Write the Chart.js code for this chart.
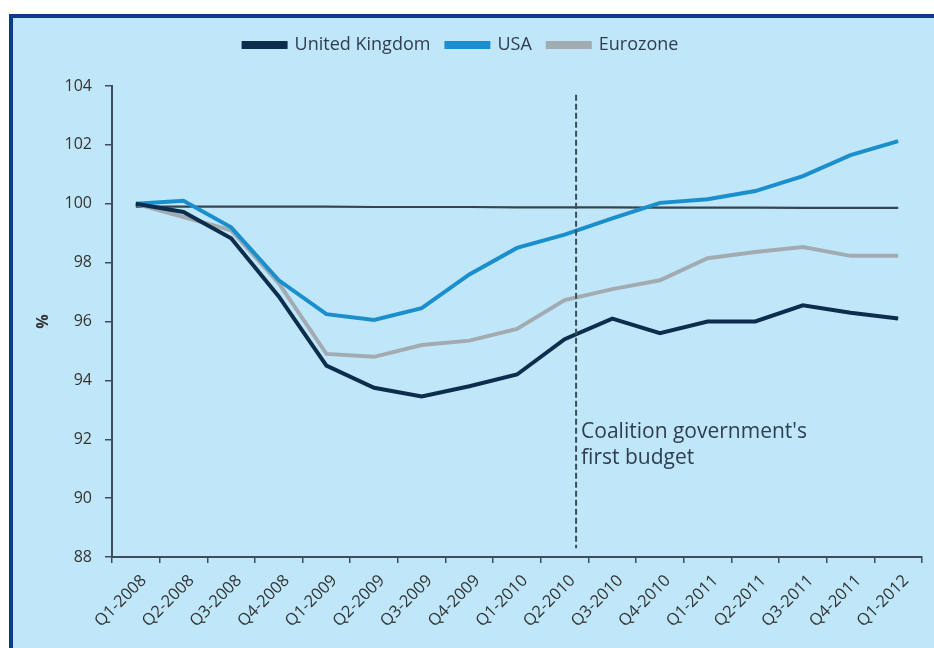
<!DOCTYPE html>
<html>
<head>
<meta charset="utf-8">
<script src="https://cdn.jsdelivr.net/npm/chart.js@4/dist/chart.umd.min.js"></script>
<style>
    html, body { margin: 0; padding: 0; background: #ffffff; overflow: hidden; }
    #frame { position: absolute; left: 9px; top: 14px; width: 940px; height: 650px; background: #c0e7f9; border: 4px solid #0c3b8d; box-sizing: border-box; }
    #chart { position: absolute; left: 0; top: 0; }
</style>
</head>
<body>
<div id="frame"></div>
<canvas id="chart" width="934" height="648"></canvas>
<script>
// --- data ---
const quarters = ['Q1-2008', 'Q2-2008', 'Q3-2008', 'Q4-2008', 'Q1-2009', 'Q2-2009', 'Q3-2009', 'Q4-2009', 'Q1-2010',
    'Q2-2010', 'Q3-2010', 'Q4-2010', 'Q1-2011', 'Q2-2011', 'Q3-2011', 'Q4-2011', 'Q1-2012'];
const ukValues = [100.0, 99.72, 98.83, 96.85, 94.5, 93.75, 93.45, 93.8, 94.2, 95.4, 96.1, 95.6, 96.0, 96.0, 96.55, 96.3, 96.1];
const usaValues = [100.0, 100.1, 99.2, 97.4, 96.25, 96.05, 96.45, 97.6, 98.5, 98.95, 99.5, 100.03, 100.15, 100.43, 100.94, 101.65, 102.13];
const euroValues = [100.0, 99.55, 99.1, 97.3, 94.9, 94.8, 95.2, 95.35, 95.75, 96.73, 97.1, 97.4, 98.15, 98.36, 98.53, 98.23, 98.23];
const baselineValues = [99.9, 99.9, 99.9, 99.9, 99.9, 99.89, 99.89, 99.89, 99.88, 99.88, 99.88, 99.87, 99.87, 99.87, 99.86, 99.86, 99.86];
const yTicks = [88, 90, 92, 94, 96, 98, 100, 102, 104];
const budgetPosition = 9.24;   // between Q2-2010 and Q3-2010
const budgetLabel = ["Coalition government's", 'first budget'];
const budgetLabelY = 92.25;

const FONT = "'Open Sans', sans-serif";
const textColor = '#2e3e4e';
const axisColor = '#3d4d5c';
const legendGap = 22;   // extra room under the legend

// dashed "first budget" marker + label
const budgetPlugin = {
    id: 'budgetMarker',
    beforeLayout(chart) {
        // push the plot area down below the legend
        const legend = chart.legend;
        if (legend && !legend._spaced) {
            const fit = legend.fit.bind(legend);
            legend.fit = function () { fit(); this.height += legendGap; };
            legend._spaced = true;
        }
    },
    afterDatasetsDraw(chart) {
        const ctx = chart.ctx;
        const x = chart.scales.x.getPixelForValue(budgetPosition);
        const yTop = chart.scales.y.getPixelForValue(103.7);
        const yBot = chart.scales.y.getPixelForValue(88.3);
        ctx.save();
        ctx.strokeStyle = axisColor;
        ctx.lineWidth = 2;
        ctx.setLineDash([6, 3]);
        ctx.beginPath();
        ctx.moveTo(x, yTop);
        ctx.lineTo(x, yBot);
        ctx.stroke();
        ctx.setLineDash([]);
        ctx.fillStyle = textColor;
        ctx.font = '21px ' + FONT;
        ctx.textBaseline = 'middle';
        const y0 = chart.scales.y.getPixelForValue(budgetLabelY);
        budgetLabel.forEach((line, i) => ctx.fillText(line, x + 5, y0 + i * 26));
        ctx.restore();
    }
};

const ctx = document.getElementById('chart').getContext('2d');
new Chart(ctx, {
    type: 'line',
    data: {
        labels: quarters,
        datasets: [
            { label: 'United Kingdom', data: ukValues, borderColor: '#0d2d4d', backgroundColor: '#0d2d4d', borderWidth: 4, pointRadius: 0, tension: 0 },
            { label: 'USA', data: usaValues, borderColor: '#1b8fcd', backgroundColor: '#1b8fcd', borderWidth: 4, pointRadius: 0, tension: 0 },
            { label: 'Eurozone', data: euroValues, borderColor: '#a2abb2', backgroundColor: '#a2abb2', borderWidth: 4, pointRadius: 0, tension: 0 },
            { label: 'baseline', data: baselineValues, borderColor: '#37444f', borderWidth: 2.2, pointRadius: 0, tension: 0 }
        ]
    },
    options: {
        responsive: false,
        animation: false,
        layout: { padding: { top: 20, left: 0, right: 12, bottom: 0 } },
        plugins: {
            tooltip: { enabled: false },
            legend: {
                position: 'top',
                labels: {
                    font: { family: FONT, size: 18 },
                    color: textColor,
                    boxWidth: 42,
                    boxHeight: 4,
                    padding: 16,
                    filter: item => item.text !== 'baseline'
                }
            }
        },
        scales: {
            x: {
                offset: true,
                grid: { offset: true, drawOnChartArea: false, drawTicks: true, tickLength: 6, color: axisColor, lineWidth: 1.5 },
                border: { color: axisColor, width: 2 },
                ticks: { font: { family: FONT, size: 16.5 }, color: '#333', minRotation: 45, maxRotation: 45, padding: 8, labelOffset: 8, autoSkip: false },
                afterFit: scale => { scale.height = 91; }
            },
            y: {
                min: 88,
                max: 104,
                afterBuildTicks: scale => { scale.ticks = yTicks.map(v => ({ value: v })); },
                grid: { drawOnChartArea: false, drawTicks: true, tickLength: 7, color: axisColor, lineWidth: 1.5 },
                border: { color: axisColor, width: 2 },
                ticks: { font: { family: FONT, size: 16 }, color: '#333', padding: 13 },
                title: { display: true, text: '%', font: { family: FONT, size: 16, weight: 'bold' }, color: '#333', padding: { top: 34, bottom: 0 } },
                afterFit: scale => { scale.width = 112; }
            }
        }
    },
    plugins: [budgetPlugin]
});
</script>
</body>
</html>
